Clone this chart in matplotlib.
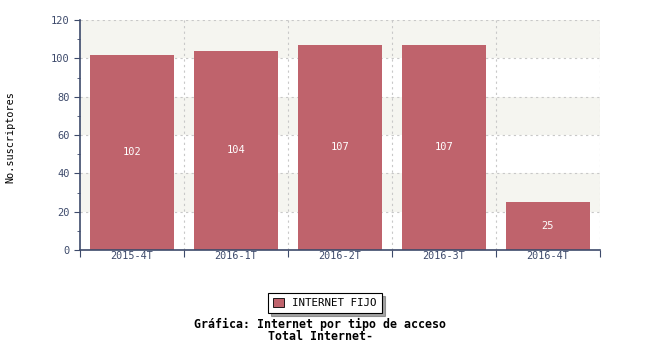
import matplotlib
matplotlib.use("Agg")
from matplotlib import pyplot as plt
from matplotlib.ticker import MultipleLocator
import numpy as np

# Data
periods = ['2015-4T', '2016-1T', '2016-2T', '2016-3T', '2016-4T']
subscribers = [102, 104, 107, 107, 25]
series_name = 'INTERNET FIJO'

bar_color = '#bf636c'
axis_color = '#3d4a6b'
mono = ['DejaVu Sans Mono']

fig = plt.figure(figsize=(6.5, 3.5), dpi=100)
ax = fig.add_axes([80 / 650, 100 / 350, 520 / 650, 230 / 350])

x = np.arange(len(periods))
ax.set_xlim(-0.5, len(periods) - 0.5)
ax.set_ylim(0, 120)

# alternating background bands
for lo in range(0, 120, 20):
    if (lo // 20) % 2 == 1:
        ax.axhspan(lo, lo + 20, color='#f5f5f0', zorder=0, lw=0)

# dotted grid
for yv in range(20, 121, 20):
    ax.axhline(yv, color='#c8c8c8', lw=0.8, ls=(0, (2, 3)), zorder=1)
for xv in np.arange(0.5, len(periods) + 0.5, 1):
    ax.axvline(xv, color='#c8c8c8', lw=0.8, ls=(0, (2, 3)), zorder=1)

bars = ax.bar(x, subscribers, width=0.81, color=bar_color, zorder=2,
              label=series_name)
for xi, v in zip(x, subscribers):
    ax.text(xi, v / 2, str(v), ha='center', va='center', color='white',
            fontsize=7.5, family=mono, zorder=3)

for s in ['top', 'right']:
    ax.spines[s].set_visible(False)
for s in ['left', 'bottom']:
    ax.spines[s].set_color(axis_color)
    ax.spines[s].set_linewidth(1.2)

ax.yaxis.set_major_locator(MultipleLocator(20))
ax.yaxis.set_minor_locator(MultipleLocator(10))
ax.tick_params(axis='y', which='both', colors=axis_color, labelsize=7.5,
               direction='out', length=4)
ax.tick_params(axis='y', which='minor', length=2)
ax.set_xticks(np.arange(-0.5, len(periods), 1))
ax.set_xticklabels([])
ax.set_xticks(x, minor=True)
ax.set_xticklabels(periods, minor=True)
ax.tick_params(axis='x', which='major', colors=axis_color, length=5)
ax.tick_params(axis='x', which='minor', length=0, colors=axis_color,
               labelsize=7.3, pad=1)
for lab in ax.get_xticklabels(minor=True) + ax.get_yticklabels():
    lab.set_family(mono)

fig.text(10 / 650, 1 - 137 / 350, 'No.suscriptores', rotation=90,
         ha='center', va='center', fontsize=7.3, family=mono)

leg = fig.legend(loc='center', bbox_to_anchor=(325 / 650, 1 - 303 / 350),
                 prop={'family': mono, 'size': 7.8}, fancybox=False,
                 shadow=True, edgecolor='black', handlelength=1,
                 handleheight=1, borderpad=0.45)
leg.get_frame().set_linewidth(0.8)
for h in leg.legend_handles:
    h.set_edgecolor('black')
    h.set_linewidth(0.6)

fig.text(320 / 650, 1 - 324 / 350, 'Gráfica: Internet por tipo de acceso',
         ha='center', va='center', fontsize=8.4, weight='bold', family=mono)
fig.text(320 / 650, 1 - 337 / 350, 'Total Internet-',
         ha='center', va='center', fontsize=8.4, weight='bold', family=mono)

plt.savefig('out.png', dpi=100)
